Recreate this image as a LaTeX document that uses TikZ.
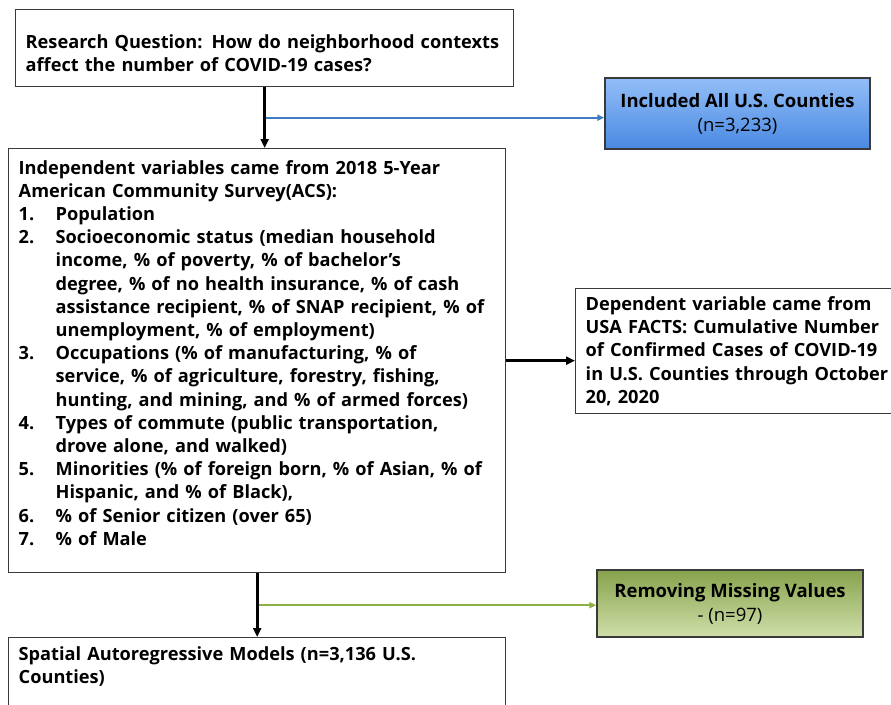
\documentclass[tikz,border=0pt]{standalone}
\usepackage{fontspec}
\setmainfont{Open Sans}
\usepackage{xcolor}
\usepackage{tikz}
\usetikzlibrary{positioning, arrows.meta, calc}
\definecolor{boxline}{HTML}{3A3A3A}
\definecolor{flowblue}{HTML}{3E7CC4}
\definecolor{flowgreen}{HTML}{8CB043}
\definecolor{incltop}{HTML}{92BEF7}
\definecolor{inclbot}{HTML}{4A89E2}
\definecolor{misstop}{HTML}{87A24C}
\definecolor{missbot}{HTML}{D0DFAA}
\newcommand{\listnum}[1]{\makebox[37pt][l]{#1}}

\begin{document}
\begin{tikzpicture}[
  x=1pt, y=-1pt,
  flowbox/.style={
    rectangle, draw=boxline, line width=1.4pt, fill=white,
    anchor=north west, text width=#1, align=left, inner xsep=10pt,
    font=\bfseries\fontsize{18.2}{23.2}\selectfont
  },
  samplebox/.style 2 args={
    rectangle, draw=boxline, line width=1.4pt, top color=#1, bottom color=#2,
    minimum width=265pt, align=center, font=\fontsize{18.5}{24}\selectfont
  },
  mainarrow/.style={line width=2.6pt, -{Triangle[length=9pt,width=8pt]}},
  sidearrow/.style={line width=1.8pt, draw=#1, -{Triangle[length=7pt,width=6pt]}, #1},
]
\path[use as bounding box, fill=white] (0,0) rectangle (891,704);
\clip (0,0) rectangle (891,704);

% Research question
\node[flowbox=478pt, minimum height=77pt] (rq) at (15,9) {
  \rule{0pt}{24pt}Research Question: How do neighborhood contexts\\
  affect the number of COVID-19 cases?
};

% Sample
\node[samplebox={incltop}{inclbot}, minimum height=71pt] (incl) at (737.5,113.5) {
  \textbf{Included All U.S. Counties}\\
  (n=3,233)
};

% Independent variables
\node[flowbox=477pt, minimum height=424pt] (ind) at (8,148) {
  Independent variables came from 2018 5-Year\\
  American Community Survey(ACS):\\
  \listnum{1.}Population\\
  \listnum{2.}Socioeconomic status (median household\\
  \hspace*{37pt}income, \% of poverty, \% of bachelor's\\
  \hspace*{37pt}degree, \% of no health insurance, \% of cash\\
  \hspace*{37pt}assistance recipient, \% of SNAP recipient, \% of\\
  \hspace*{37pt}unemployment, \% of employment)\\
  \listnum{3.}Occupations (\% of manufacturing, \% of\\
  \hspace*{37pt}service, \% of agriculture, forestry, fishing,\\
  \hspace*{37pt}hunting, and mining, and \% of armed forces)\\
  \listnum{4.}Types of commute (public transportation,\\
  \hspace*{37pt}drove alone, and walked)\\
  \listnum{5.}Minorities (\% of foreign born, \% of Asian, \% of\\
  \hspace*{37pt}Hispanic, and \% of Black),\\
  \listnum{6.}\% of Senior citizen (over 65)\\
  \listnum{7.}\% of Male\rule[-16pt]{0pt}{16pt}
};

% Dependent variable
\node[flowbox=320pt, minimum height=125pt] (dep) at (575,288) {
  Dependent variable came from\\
  USA FACTS: Cumulative Number\\
  of Confirmed Cases of COVID-19\\
  in U.S. Counties through October\\
  20, 2020
};

% Missing values
\node[samplebox={misstop}{missbot}, minimum height=67pt, minimum width=266pt] (miss) at (730,603.5) {
  \textbf{Removing Missing Values}\\
  - (n=97)
};

% Model
\node[flowbox=477pt, minimum height=95pt] (sar) at (8,637) {
  Spatial Autoregressive Models (n=3,136 U.S.\\
  Counties)\rule[-40pt]{0pt}{40pt}
};

% Connectors
\coordinate (split1) at ($(rq.south)!0.5!(rq.south |- ind.north)$);
\coordinate (split2) at ($(ind.south)!0.5!(ind.south |- sar.north)$);
\draw[sidearrow=flowblue] (split1) -- (split1 -| incl.west);
\draw[sidearrow=flowgreen] (split2) -- (split2 -| miss.west);
\draw[mainarrow] (rq.south) -- (rq.south |- ind.north);
\draw[mainarrow] (ind.east) -- (ind.east -| dep.west);
\draw[mainarrow] (ind.south) -- (ind.south |- sar.north);

\end{tikzpicture}
\end{document}
